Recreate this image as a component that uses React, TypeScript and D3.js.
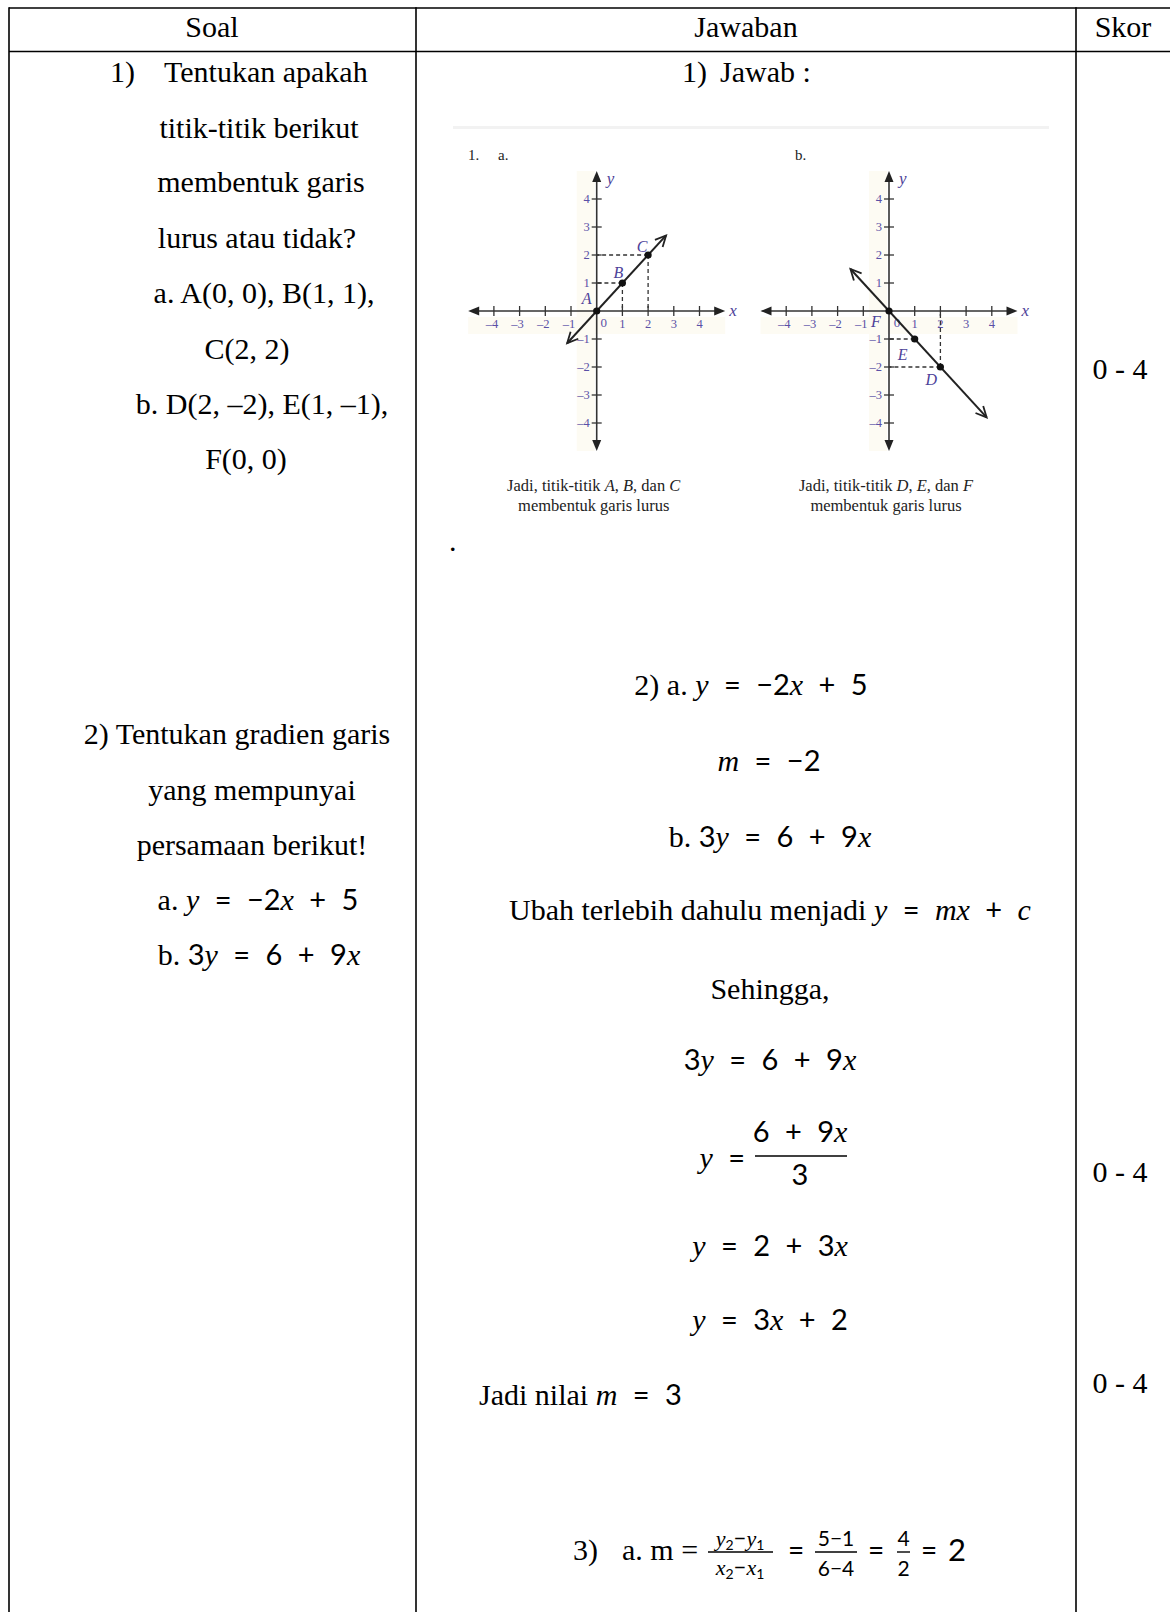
import React, { useEffect } from 'react'
import * as d3 from 'd3'

const W = 1170
const H = 1612
const SERIF = '"Liberation Serif", "Times New Roman", serif'
const SANS = 'Lato, "Noto Sans", sans-serif'
const LABEL = '#4d4299'
const TICKC = '#5a50a6'

// table
const colEdges = [9, 416, 1076]
const headers = ['Soal', 'Jawaban', 'Skor']
const headerX = [212, 746, 1123]

// graph data
const ticks = [-4, -3, -2, -1, 1, 2, 3, 4]
const pointsA = [{ name: 'A', x: 0, y: 0 }, { name: 'B', x: 1, y: 1 }, { name: 'C', x: 2, y: 2 }]
const pointsB = [{ name: 'D', x: 2, y: -2 }, { name: 'E', x: 1, y: -1 }, { name: 'F', x: 0, y: 0 }]
const lineA = [[-1.15, -1.15], [2.7, 2.7]]
const lineB = [[-1.5, 1.5], [3.8, -3.8]]
const guidesA = [[[1, 1], [0, 1]], [[1, 1], [1, 0]], [[2, 2], [0, 2]], [[2, 2], [2, 0]]]
const guidesB = [[[1, -1], [0, -1]], [[2, -2], [0, -2]], [[2, -2], [2, 0]]]
const labelOffA = { A: [-10, -7], B: [-4, -5], C: [-6, -3] }
const labelOffB = { F: [-13, 16], E: [-12, 21], D: [-9, 18] }

type Tok = [string, string]

const soal: { x: number; y: number; t: string }[] = [
  { x: 259, y: 138, t: 'titik-titik berikut' },
  { x: 261, y: 192, t: 'membentuk garis' },
  { x: 257, y: 248, t: 'lurus atau tidak?' },
  { x: 264, y: 303, t: 'a. A(0, 0), B(1, 1),' },
  { x: 247, y: 359, t: 'C(2, 2)' },
  { x: 262, y: 414, t: 'b. D(2, –2), E(1, –1),' },
  { x: 246, y: 469, t: 'F(0, 0)' },
  { x: 237, y: 744, t: '2) Tentukan gradien garis' },
  { x: 252, y: 800, t: 'yang mempunyai' },
  { x: 252, y: 855, t: 'persamaan berikut!' },
]

const soalEq: { x: number; y: number; toks: Tok[] }[] = [
  { x: 258, y: 910, toks: [['a. ', 'r'], ['y', 'i'], [' = −2', 'n'], ['x', 'i'], [' + 5', 'n']] },
  { x: 259, y: 965, toks: [['b. ', 'r'], ['3', 'n'], ['y', 'i'], [' = 6 + 9', 'n'], ['x', 'i']] },
]

const jawab: { x: number; y: number; toks: Tok[]; anchor?: string }[] = [
  { x: 751, y: 695, toks: [['2) a.  ', 'r'], ['y', 'i'], [' = −2', 'n'], ['x', 'i'], [' + 5', 'n']] },
  { x: 769, y: 771, toks: [['m', 'i'], [' = −2', 'n']] },
  { x: 770, y: 847, toks: [['b.  ', 'r'], ['3', 'n'], ['y', 'i'], [' = 6 + 9', 'n'], ['x', 'i']] },
  { x: 770, y: 920, toks: [['Ubah terlebih dahulu menjadi ', 'r'], ['y', 'i'], [' = ', 'n'], ['mx', 'i'], [' + ', 'n'], ['c', 'i']] },
  { x: 770, y: 999, toks: [['Sehingga,', 'r']] },
  { x: 770, y: 1070, toks: [['3', 'n'], ['y', 'i'], [' = 6 + 9', 'n'], ['x', 'i']] },
  { x: 770, y: 1256, toks: [['y', 'i'], [' = 2 + 3', 'n'], ['x', 'i']] },
  { x: 770, y: 1330, toks: [['y', 'i'], [' = 3', 'n'], ['x', 'i'], [' + 2', 'n']] },
  { x: 479, y: 1405, toks: [['Jadi nilai ', 'r'], ['m', 'i'], [' = 3', 'n']], anchor: 'start' },
]

const skorY = [379, 1182, 1393]

function Eq({ x, y, toks, anchor = 'middle' }: { x: number; y: number; toks: Tok[]; anchor?: string }) {
  return (
    <text x={x} y={y} textAnchor={anchor} fill="#000">
      {toks.map(([t, k], i) => (
        <tspan
          key={i}
          fontFamily={k === 'n' ? SANS : SERIF}
          fontStyle={k === 'i' ? 'italic' : 'normal'}
          fontSize={k === 'n' ? 29 : 30}
          style={k === 'n' ? { wordSpacing: '8px' } : undefined}
        >
          {t}
        </tspan>
      ))}
    </text>
  )
}

function arrowV(x0: number, y0: number, x1: number, y1: number, len = 12, ang = 0.45) {
  const a = Math.atan2(y1 - y0, x1 - x0)
  const p1 = [x1 - len * Math.cos(a - ang), y1 - len * Math.sin(a - ang)]
  const p2 = [x1 - len * Math.cos(a + ang), y1 - len * Math.sin(a + ang)]
  return `M${p1[0]},${p1[1]}L${x1},${y1}L${p2[0]},${p2[1]}`
}

function Graph({ ox, oy, pts, ends, guides, offs, zeroOff, heading, caption }: any) {
  const ux = 25.7
  const uy = 28
  const x = d3.scaleLinear().domain([-5, 5]).range([ox - 5 * ux, ox + 5 * ux])
  const y = d3.scaleLinear().domain([-5, 5]).range([oy + 5 * uy, oy - 5 * uy])
  const line = d3.line<number[]>().x(d => x(d[0])).y(d => y(d[1]))
  const [e0, e1] = ends
  return (
    <g>
      <rect x={x(-5)} y={oy + 6} width={x(5) - x(-5)} height={17} fill="#fdfbf3" />
      <rect x={ox - 20} y={y(5)} width={18} height={y(-5) - y(5)} fill="#fdfbf3" />
      {heading.map((h: any, i: number) => (
        <text key={i} x={h.x} y={160} fontFamily={SERIF} fontSize={15} fill="#222">{h.t}</text>
      ))}
      {/* axes */}
      <line x1={x(-5) + 8} x2={x(5) - 8} y1={oy} y2={oy} stroke="#333" strokeWidth={1.6} />
      <line x1={ox} x2={ox} y1={y(5) + 8} y2={y(-5) - 8} stroke="#333" strokeWidth={1.6} />
      <path d={`M${x(-5)},${oy}l11,-4.5v9z`} fill="#222" />
      <path d={`M${x(5)},${oy}l-11,-4.5v9z`} fill="#222" />
      <path d={`M${ox},${y(5)}l-4.5,11h9z`} fill="#222" />
      <path d={`M${ox},${y(-5)}l-4.5,-11h9z`} fill="#222" />
      {ticks.map(t => (
        <g key={'t' + t}>
          <line x1={x(t)} x2={x(t)} y1={oy - 5} y2={oy + 5} stroke="#333" strokeWidth={1.3} />
          <line x1={ox - 5} x2={ox + 5} y1={y(t)} y2={y(t)} stroke="#333" strokeWidth={1.3} />
          <text x={x(t) - (t < 0 ? 2 : 0)} y={oy + 17} textAnchor="middle" fontFamily={SERIF} fontSize={12.5} fill={TICKC}>
            {t < 0 ? '–' + Math.abs(t) : t}
          </text>
          <text x={ox - 7} y={y(t) + 4} textAnchor="end" fontFamily={SERIF} fontSize={12.5} fill={TICKC}>
            {t < 0 ? '–' + Math.abs(t) : t}
          </text>
        </g>
      ))}
      <text x={ox + zeroOff[0]} y={oy + zeroOff[1]} textAnchor="middle" fontFamily={SERIF} fontSize={13} fill={TICKC}>0</text>
      <text x={x(5) + 4} y={oy + 5} fontFamily={SERIF} fontStyle="italic" fontSize={17} fill={LABEL}>x</text>
      <text x={ox + 10} y={y(5) + 13} fontFamily={SERIF} fontStyle="italic" fontSize={17} fill={LABEL}>y</text>
      {/* guides */}
      {guides.map((g: number[][], i: number) => (
        <path key={'g' + i} d={line(g) || ''} stroke="#333" strokeWidth={1.3} strokeDasharray="4,3" fill="none" />
      ))}
      {/* the line */}
      <path d={line(ends) || ''} stroke="#222" strokeWidth={2} fill="none" />
      <path d={arrowV(x(e0[0]), y(e0[1]), x(e1[0]), y(e1[1]))} stroke="#222" strokeWidth={1.8} fill="none" />
      <path d={arrowV(x(e1[0]), y(e1[1]), x(e0[0]), y(e0[1]))} stroke="#222" strokeWidth={1.8} fill="none" />
      {pts.map((p: any) => (
        <g key={p.name}>
          <circle cx={x(p.x)} cy={y(p.y)} r={3.6} fill="#111" />
          <text x={x(p.x) + offs[p.name][0]} y={y(p.y) + offs[p.name][1]} textAnchor="middle" fontFamily={SERIF}
            fontStyle="italic" fontSize={16} fill={LABEL}>{p.name}</text>
        </g>
      ))}
      {caption.map((c: Tok[], i: number) => (
        <text key={'c' + i} x={ox - 3} y={491 + i * 20} textAnchor="middle" fontFamily={SERIF} fontSize={16.5} fill="#222">
          {c.map(([t, k], j) => (
            <tspan key={j} fontStyle={k === 'i' ? 'italic' : 'normal'}>{t}</tspan>
          ))}
        </text>
      ))}
    </g>
  )
}

export default function App() {
  useEffect(() => {
    document.body.style.margin = '0'
  }, [])

  return (
    <svg width={W} height={H} style={{ display: 'block', background: '#fff' }}>
      {/* table lines */}
      <line x1={colEdges[0]} x2={W} y1={8} y2={8} stroke="#000" strokeWidth={1.6} />
      <line x1={colEdges[0]} x2={W} y1={51.5} y2={51.5} stroke="#000" strokeWidth={1.6} />
      {colEdges.map(cx => (
        <line key={cx} x1={cx} x2={cx} y1={7.2} y2={H} stroke="#000" strokeWidth={1.6} />
      ))}
      {headers.map((h, i) => (
        <text key={h} x={headerX[i]} y={37} textAnchor="middle" fontFamily={SERIF} fontSize={30}>{h}</text>
      ))}

      {/* soal column */}
      <text x={110} y={82} fontFamily={SERIF} fontSize={30}>1)</text>
      <text x={164} y={82} fontFamily={SERIF} fontSize={30}>Tentukan apakah</text>
      {soal.map((s, i) => (
        <text key={i} x={s.x} y={s.y} textAnchor="middle" fontFamily={SERIF} fontSize={30}>{s.t}</text>
      ))}
      {soalEq.map((e, i) => <Eq key={i} x={e.x} y={e.y} toks={e.toks} />)}

      {/* jawaban column */}
      <text x={682} y={82} fontFamily={SERIF} fontSize={30}>1)</text>
      <text x={720} y={82} fontFamily={SERIF} fontSize={30}>Jawab :</text>
      <rect x={453} y={126} width={596} height={3} fill="#f2f2f2" />
      <Graph
        ox={596.7} oy={311} pts={pointsA} ends={lineA} guides={guidesA} offs={labelOffA} zeroOff={[7, 16]}
        heading={[{ x: 468, t: '1.' }, { x: 498, t: 'a.' }]}
        caption={[[['Jadi, titik-titik ', 'r'], ['A', 'i'], [', ', 'r'], ['B', 'i'], [', dan ', 'r'], ['C', 'i']], [['membentuk garis lurus', 'r']]]}
      />
      <Graph
        ox={889} oy={311} pts={pointsB} ends={lineB} guides={guidesB} offs={labelOffB} zeroOff={[8, 16]}
        heading={[{ x: 795, t: 'b.' }]}
        caption={[[['Jadi, titik-titik ', 'r'], ['D', 'i'], [', ', 'r'], ['E', 'i'], [', dan ', 'r'], ['F', 'i']], [['membentuk garis lurus', 'r']]]}
      />
      <text x={449} y={551} fontFamily={SERIF} fontSize={30}>.</text>

      {jawab.map((e, i) => <Eq key={i} x={e.x} y={e.y} toks={e.toks} anchor={e.anchor} />)}

      {/* y = (6 + 9x) / 3 */}
      <Eq x={745} y={1168} toks={[['y', 'i'], [' =', 'n']]} anchor="end" />
      <Eq x={800} y={1142} toks={[['6 + 9', 'n'], ['x', 'i']]} />
      <line x1={755} x2={847} y1={1156} y2={1156} stroke="#000" strokeWidth={1.6} />
      <Eq x={800} y={1185} toks={[['3', 'n']]} />

      {/* 3) a. m = ... */}
      <text x={573} y={1560} fontFamily={SERIF} fontSize={30}>3)</text>
      <text x={622} y={1560} fontFamily={SERIF} fontSize={30}>a. m =</text>
      <text x={740} y={1546} textAnchor="middle" fontFamily={SERIF} fontStyle="italic" fontSize={22}>
        y<tspan fontSize={14} dy={4} fontFamily={SANS} fontStyle="normal">2</tspan>
        <tspan dy={-4} fontFamily={SANS} fontStyle="normal">−</tspan>y
        <tspan fontSize={14} dy={4} fontFamily={SANS} fontStyle="normal">1</tspan>
      </text>
      <line x1={708} x2={773} y1={1552} y2={1552} stroke="#000" strokeWidth={1.4} />
      <text x={740} y={1575} textAnchor="middle" fontFamily={SERIF} fontStyle="italic" fontSize={22}>
        x<tspan fontSize={14} dy={4} fontFamily={SANS} fontStyle="normal">2</tspan>
        <tspan dy={-4} fontFamily={SANS} fontStyle="normal">−</tspan>x
        <tspan fontSize={14} dy={4} fontFamily={SANS} fontStyle="normal">1</tspan>
      </text>
      <text x={796} y={1560} textAnchor="middle" fontFamily={SANS} fontSize={28}>=</text>
      <text x={836} y={1546} textAnchor="middle" fontFamily={SANS} fontSize={21}>5−1</text>
      <line x1={815} x2={857} y1={1552} y2={1552} stroke="#000" strokeWidth={1.4} />
      <text x={836} y={1576} textAnchor="middle" fontFamily={SANS} fontSize={21}>6−4</text>
      <text x={876} y={1560} textAnchor="middle" fontFamily={SANS} fontSize={28}>=</text>
      <text x={903.5} y={1546} textAnchor="middle" fontFamily={SANS} fontSize={21}>4</text>
      <line x1={897} x2={910} y1={1552} y2={1552} stroke="#000" strokeWidth={1.4} />
      <text x={903.5} y={1576} textAnchor="middle" fontFamily={SANS} fontSize={21}>2</text>
      <text x={929} y={1560} textAnchor="middle" fontFamily={SANS} fontSize={28}>=</text>
      <text x={957} y={1561} textAnchor="middle" fontFamily={SANS} fontSize={31}>2</text>

      {/* skor */}
      {skorY.map(sy => (
        <text key={sy} x={1120} y={sy} textAnchor="middle" fontFamily={SERIF} fontSize={30}>0 - 4</text>
      ))}
    </svg>
  )
}
